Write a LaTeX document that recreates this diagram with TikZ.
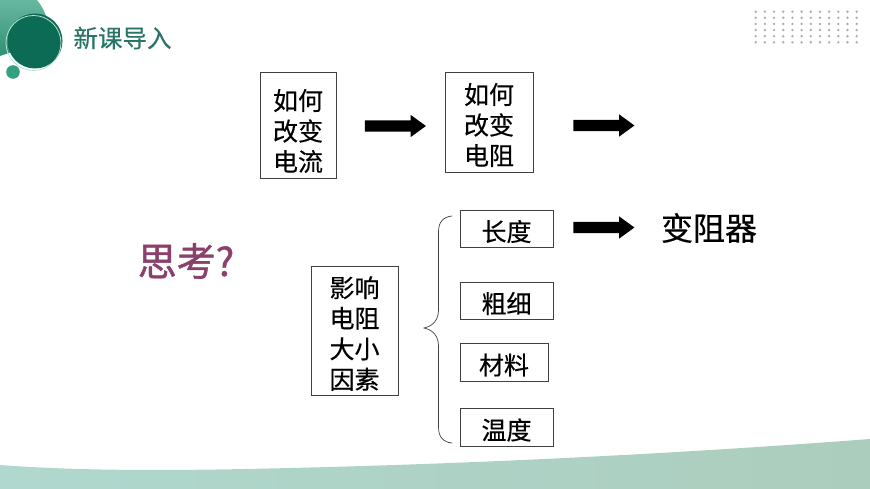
\documentclass[tikz,border=0pt]{standalone}
\usepackage{fontspec}
\setmainfont{Noto Sans CJK SC}
\newfontfamily\heavy[FakeBold=0.35]{Noto Sans CJK SC}
\newfontfamily\heavier[FakeBold=1.1]{Noto Sans CJK SC}
\usetikzlibrary{shapes.arrows,calc}
\definecolor{darkgreen}{HTML}{0C6B55}
\definecolor{midgreen}{HTML}{35A080}
\definecolor{titlegreen}{HTML}{2A7467}
\definecolor{thinkcol}{HTML}{8B3F6B}
\definecolor{boxline}{HTML}{404040}
\definecolor{waveleft}{HTML}{B0D8CE}
\definecolor{waveright}{HTML}{ABCDBD}
\tikzset{
  x=1pt,y=-1pt,
  box/.style={draw=boxline,line width=0.9pt,fill=white,inner sep=0pt},
  boxtext/.style={inner sep=0pt,align=center,font=\heavy\fontsize{25}{30.5}\selectfont},
  fatarrow/.style={fill=black,draw=none,single arrow,minimum height=61pt,inner xsep=0pt,inner ysep=5.5pt,single arrow head extend=5.5pt,single arrow tip angle=72},
  brace/.style={draw=black!75,line width=0.7pt,line cap=round},
  griddot/.style={circle,fill=black!32,minimum size=2.7pt,inner sep=0pt},
}
\begin{document}
\begin{tikzpicture}
\useasboundingbox (0,0) rectangle (870,489);
% bottom wave
\shade[left color=waveleft,right color=waveright]
  (0,465) .. controls (80,471) and (170,471) .. (290,468) .. controls (500,463) and (700,452) .. (870,439) -- (870,489) -- (0,489) -- cycle;
% logo
\shade[bottom color=midgreen!90!black,top color=midgreen!75!white]
  (0,0) -- (37,0) .. controls (41,5) and (44,10) .. (46,16) -- (30,40) -- (9,53) -- (0,56) -- cycle;
\fill[darkgreen] (35,41) circle[radius=27.5];
\draw[draw=white!65!midgreen,line width=0.8pt] (33.5,43) circle[radius=27.5];
\fill[midgreen] (13,72) circle[radius=6.8];
\node[text=titlegreen,font=\heavy\fontsize{24.5}{28}\selectfont,anchor=center] (title) at (122.5,38) {新课导入};
% dot grid
\foreach \i in {0,...,11}\foreach \j in {0,...,5}
  \node[griddot] (d\i-\j) at ({755.7+9.18*\i},{11.7+6.12*\j}) {};
% boxes
\node[box,minimum width=76pt,minimum height=106pt,label={[boxtext,yshift=-6pt]center:{如何\\改变\\电流}}] (current) at (298,125) {};
\node[box,minimum width=88pt,minimum height=100pt,label={[boxtext,yshift=-3pt]center:{如何\\改变\\电阻}}] (resist) at (489,122) {};
\node[box,minimum width=87pt,minimum height=129pt,label={[boxtext,yshift=-3pt]center:{影响\\电阻\\大小\\因素}}] (factors) at (354.5,330.5) {};
\node[box,minimum width=93pt,minimum height=37pt,label={[boxtext,yshift=-3pt]center:{长度}}] (len) at (506.5,228.5) {};
\node[box,minimum width=93pt,minimum height=37pt,label={[boxtext,yshift=-3pt]center:{粗细}}] (thick) at (506.5,300.5) {};
\node[box,minimum width=88pt,minimum height=38pt,label={[boxtext,yshift=-3pt]center:{材料}}] (mat) at (504,362) {};
\node[box,minimum width=93pt,minimum height=38pt,label={[boxtext,yshift=-3pt]center:{温度}}] (temp) at (506.5,427) {};
% arrows
\node[fatarrow] (a1) at (391.5,126) {};
\node[fatarrow] (a2) at (600,125.5) {};
\node[fatarrow] (a3) at (600,227.5) {};
% labels
\node[font=\heavy\fontsize{32}{36}\selectfont] (rheo) at (709,228) {变阻器};
\node[text=thinkcol,font=\heavier\fontsize{39}{44}\selectfont] (think) at (186,261) {思考?};
% brace
\coordinate (bt) at (452,216);
\coordinate (bm) at (424,328);
\coordinate (bb) at (452,443);
\draw[brace] (bt) .. controls (443,217) and (438.5,222) .. (438.5,232) -- (438.5,310)
  .. controls (438.5,320) and (433,326) .. (bm)
  .. controls (433,330) and (438.5,336) .. (438.5,346) -- (438.5,427)
  .. controls (438.5,437) and (443,442) .. (bb);
\end{tikzpicture}
\end{document}
